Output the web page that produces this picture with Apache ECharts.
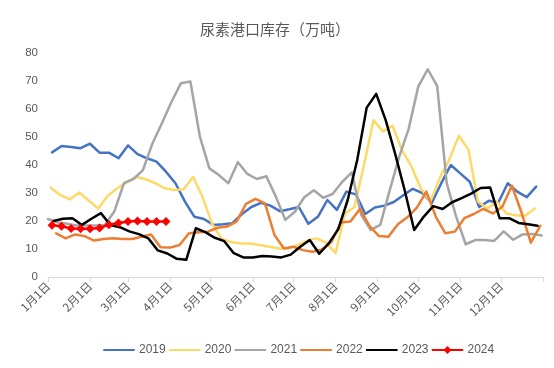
<!DOCTYPE html>
<html><head><meta charset="utf-8">
<script src="https://cdn.jsdelivr.net/npm/echarts@6/dist/echarts.min.js"></script>
<style>html,body{margin:0;padding:0;background:#fff}#c{width:554px;height:368px}</style>
</head><body><div id="c"></div>
<script>
// x-axis tick labels (month starts, day of year)
const monthLabels = ['1月1日','2月1日','3月1日','4月1日','5月1日','6月1日','7月1日','8月1日','9月1日','10月1日','11月1日','12月1日'];
const monthStartDays = [0,31,59,90,120,151,181,212,243,273,304,334];
const yearEndDay = 365;
const yTicks = [0,10,20,30,40,50,60,70,80];

const years = ['2019','2020','2021','2022','2023','2024'];
// first weekly observation (day of year) for each year; observations are weekly
const startDays = {'2019':3,'2020':2,'2021':0,'2022':6,'2023':4,'2024':3};

const v2019 = [44.5,46.8,46.4,46,47.6,44.4,44.4,42.4,47,43.9,
  42.4,41.2,37.6,33.5,26.9,21.5,20.7,18.6,18.8,19.2,
  22.5,25,26.5,25.5,23.5,24.2,25,19,21.5,27.5,
  24,30.5,29.5,22.5,24.8,25.5,26.8,29.2,31.5,30,
  26.5,33.5,40,37,34,25,27.2,26.5,33.5,30.5,
  28.5,32.3];
const v2020 = [31.9,29.3,27.7,30.2,27.3,24.5,28.9,31.7,33.8,35.8,
  34.9,33.5,31.7,31.1,31.3,35.8,28.5,19,13.6,12.5,
  12,12,11.4,10.8,10.2,10.2,11.4,13,13.8,12.3,
  8.5,22.7,25,40,56,52,54,45.4,39.5,31.5,
  27,35.5,42,50.5,45.5,27,24.5,26.9,22.7,22,
  22,24.5];
const v2021 = [20.7,19.5,19,18.4,18.4,18.4,18.6,23.5,33.5,35,
  38.2,47.7,54.9,62.5,69.2,69.8,50.1,38.8,36.4,33.5,
  41,36.8,35,36,28.7,20.4,23.3,28.5,31,28.3,
  29.7,34,37.4,22.1,16.8,18.6,31,43,53,68,
  74.2,68.2,33.5,21.5,11.7,13.2,13.2,12.9,16.3,13.3,
  15.2,15.4,14.8];
const v2022 = [15.6,13.8,15.2,14.6,13,13.6,13.8,13.6,13.6,14.4,
  15.2,10.6,10.5,11.4,15.6,16,16.2,17.6,18,19.8,
  26.1,27.9,26.3,15,10.2,10.8,9.6,9,9.8,12.5,
  19.5,19.8,24.3,18.3,14.6,14.4,18.8,21.3,24.8,30.5,
  21.5,15.6,16.2,21,22.5,24.3,22.7,25.1,32.6,23.3,
  12.3,18.3];
const v2023 = [20,20.8,21,18.6,20.8,22.8,18.6,17.8,16.3,15.3,
  13.8,9.5,8.4,6.5,6.2,17.4,16,14,12.8,8.5,
  7,7,7.5,7.3,7,8,10.8,13.2,8.3,12,
  17,27.5,41.8,60.5,65.4,56,44,31,16.8,21.5,
  25.3,24.3,26.7,28.2,29.8,31.8,32,21,21,19.3,
  18.8,18.3];
const v2024 = [18.5,18.1,17.3,17.2,17.2,17.5,18.7,19.3,19.8,20,19.8,19.8,19.8];

const values = {'2019':v2019,'2020':v2020,'2021':v2021,'2022':v2022,'2023':v2023,'2024':v2024};
const colors = {'2019':'#4472C4','2020':'#FFD966','2021':'#A5A5A5','2022':'#ED7D31','2023':'#000000','2024':'#FF0000'};

function weekly(year){
  return values[year].map((v,i)=>[startDays[year]+7*i, v]);
}

const gray = '#595959';
const chart = echarts.init(document.getElementById('c'), null, {renderer:'canvas'});
chart.setOption({
  animation:false,
  backgroundColor:'#fff',
  title:{
    text:'尿素港口库存（万吨）',
    left:270, top:17, textAlign:'center',
    textStyle:{fontSize:15, fontWeight:'normal', color:gray, fontFamily:'Noto Sans CJK SC'}
  },
  grid:{left:48, right:11, top:53, bottom:91, containLabel:false},
  legend:{
    data:years.map(y=> y==='2024'
      ? {name:y}
      : {name:y, itemStyle:{opacity:0, borderWidth:0}}),
    left:98, top:339,
    itemWidth:30, itemHeight:10, itemGap:3,
    textStyle:{fontSize:12, color:gray, fontFamily:'Liberation Sans'}
  },
  xAxis:{
    type:'value', min:0, max:yearEndDay,
    splitLine:{show:false},
    axisLine:{show:true, lineStyle:{color:'#d9d9d9', width:1}},
    axisTick:{show:true, length:5, lineStyle:{color:'#d9d9d9'},
      customValues:monthStartDays.concat([yearEndDay])},
    axisLabel:{
      customValues:monthStartDays,
      rotate:45, margin:7, fontSize:11.5, color:gray, fontFamily:'Noto Sans CJK SC',
      formatter:(v)=>monthLabels[monthStartDays.indexOf(v)] || ''
    }
  },
  yAxis:{
    type:'value', min:0, max:80, interval:10,
    splitLine:{show:false},
    axisLine:{show:false}, axisTick:{show:false},
    axisLabel:{margin:10, fontSize:11.5, color:gray, fontFamily:'Liberation Sans',
      customValues:yTicks}
  },
  series:years.map(y=>({
    name:y, type:'line',
    data:weekly(y),
    color:colors[y],
    symbol: y==='2024' ? 'diamond' : 'none',
    symbolSize: 9,
    showSymbol: y==='2024',
    itemStyle:{color:colors[y]},
    lineStyle:{color:colors[y], width:2.5, cap:'round', join:'round'},
    emphasis:{disabled:true}
  }))
});
</script></body></html>
